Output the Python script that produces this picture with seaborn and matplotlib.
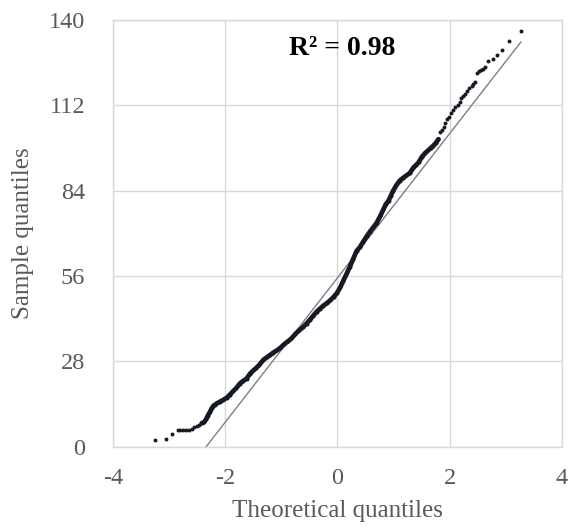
import matplotlib
matplotlib.use("Agg")
import matplotlib.pyplot as plt
import numpy as np
import pandas as pd
import seaborn as sns


# theoretical (normal) quantiles and matching sample quantiles
THEORETICAL = [
    -3.26, -3.06, -2.94, -2.85, -2.80, -2.75, -2.70, -2.65, -2.60, -2.55,
    -2.51, -2.46, -2.42, -2.38, -2.34, -2.31, -2.27, -2.24, -2.21, -2.18,
    -2.14, -2.09, -2.04, -1.97, -1.92, -1.86, -1.80, -1.74, -1.68, -1.62,
    -1.56, -1.50, -1.45, -1.39, -1.32, -1.26, -1.20, -1.14, -1.08, -1.02,
    -0.95, -0.88, -0.82, -0.75, -0.68, -0.61, -0.55, -0.49, -0.43, -0.37,
    -0.31, -0.25, -0.19, -0.13, -0.07, -0.01, 0.05, 0.10, 0.16, 0.22,
    0.28, 0.34, 0.40, 0.46, 0.52, 0.58, 0.64, 0.70, 0.76, 0.82,
    0.86, 0.91, 0.95, 0.99, 1.05, 1.11, 1.17, 1.23, 1.29, 1.35,
    1.40, 1.45, 1.50, 1.56, 1.62, 1.67, 1.71, 1.76, 1.80, 1.83,
    1.86, 1.89, 1.92, 1.95, 1.98, 2.02, 2.06, 2.10, 2.14, 2.18,
    2.21, 2.24, 2.27, 2.30, 2.35, 2.39, 2.42, 2.45, 2.49, 2.52,
    2.55, 2.59, 2.63, 2.69, 2.78, 2.85, 2.94, 3.06, 3.27,
]
SAMPLE = [
    2.1, 2.6, 4.1, 5.5, 5.5, 5.5, 5.5, 5.6, 5.7, 6.4,
    6.9, 7.2, 7.7, 8.0, 9.0, 10.2, 11.5, 12.6, 13.4, 13.8,
    14.3, 14.8, 15.3, 16.1, 17.0, 18.2, 19.3, 20.7, 21.6, 22.3,
    23.9, 25.0, 25.8, 26.9, 28.5, 29.3, 30.1, 30.9, 31.6, 32.4,
    33.6, 34.6, 35.5, 37.0, 38.2, 39.3, 40.4, 41.7, 43.0, 44.3,
    45.3, 46.3, 47.1, 48.0, 49.1, 50.4, 52.3, 54.3, 56.6, 59.0,
    61.6, 64.2, 65.5, 67.3, 69.0, 70.6, 72.0, 73.5, 75.6, 77.9,
    79.5, 80.7, 82.3, 83.9, 85.8, 87.3, 88.2, 89.0, 89.8, 91.5,
    92.4, 93.4, 95.0, 96.3, 97.3, 98.1, 98.8, 99.8, 100.9, 103.2,
    104.0, 105.0, 106.3, 107.4, 108.3, 109.5, 110.4, 111.3, 112.2, 113.0,
    114.4, 115.2, 115.6, 116.7, 117.6, 118.3, 118.9, 119.6, 122.6, 123.2,
    123.6, 124.0, 124.5, 126.4, 127.2, 128.6, 130.3, 133.0, 136.5,
]

# reference line: sample mean and standard deviation
LINE_INTERCEPT = 55.4
LINE_SLOPE = 23.68
R_SQUARED = 0.98

X_TICKS = [-4, -2, 0, 2, 4]
Y_TICKS = [0, 28, 56, 84, 112, 140]

POINT_COLOR = "#161a24"
GRID_COLOR = "#d9d9d9"
TEXT_COLOR = "#595959"

df = pd.DataFrame({"theoretical": THEORETICAL, "sample": SAMPLE})
body = df[(df["theoretical"] >= -2.42) & (df["theoretical"] <= 1.80)]

sns.set_theme(style="whitegrid")
plt.rcParams["font.family"] = ["Liberation Serif", "DejaVu Serif"]
plt.rcParams["axes.unicode_minus"] = False

fig = plt.figure(figsize=(5.69, 5.31), dpi=100)
ax = fig.add_axes([0.1986, 0.1588, 0.789, 0.8035])

x_line = np.array([df["theoretical"].min(), df["theoretical"].max()])
ax.plot(x_line, LINE_INTERCEPT + LINE_SLOPE * x_line, color="#7f7f7f", lw=1.0, zorder=2)

# dense middle of the distribution reads as a solid band of markers
sns.lineplot(data=body, x="theoretical", y="sample", ax=ax, color=POINT_COLOR,
             lw=3.4, sort=False, estimator=None, zorder=3)
sns.scatterplot(data=df, x="theoretical", y="sample", ax=ax, color=POINT_COLOR,
                s=8, linewidth=0, zorder=4)

ax.set_xlim(-4, 4)
ax.set_ylim(0, 140)
ax.set_xticks(X_TICKS)
ax.set_yticks(Y_TICKS)
ax.grid(True, color=GRID_COLOR, lw=1.0)
for spine in ax.spines.values():
    spine.set_color(GRID_COLOR)
    spine.set_linewidth(1.0)
ax.tick_params(axis="both", length=0, labelsize=17.5, labelcolor=TEXT_COLOR)
ax.tick_params(axis="x", pad=15)
ax.tick_params(axis="y", pad=20)

ax.set_xlabel("Theoretical quantiles", fontsize=18, color=TEXT_COLOR, labelpad=8)
ax.set_ylabel("Sample quantiles", fontsize=18, color=TEXT_COLOR, labelpad=11)

ax.text(0.09, 130.5, f"R² = {R_SQUARED:.2f}", ha="center", va="center",
        fontsize=20, fontweight="bold", color="black")

fig.savefig("out.png", dpi=100)
